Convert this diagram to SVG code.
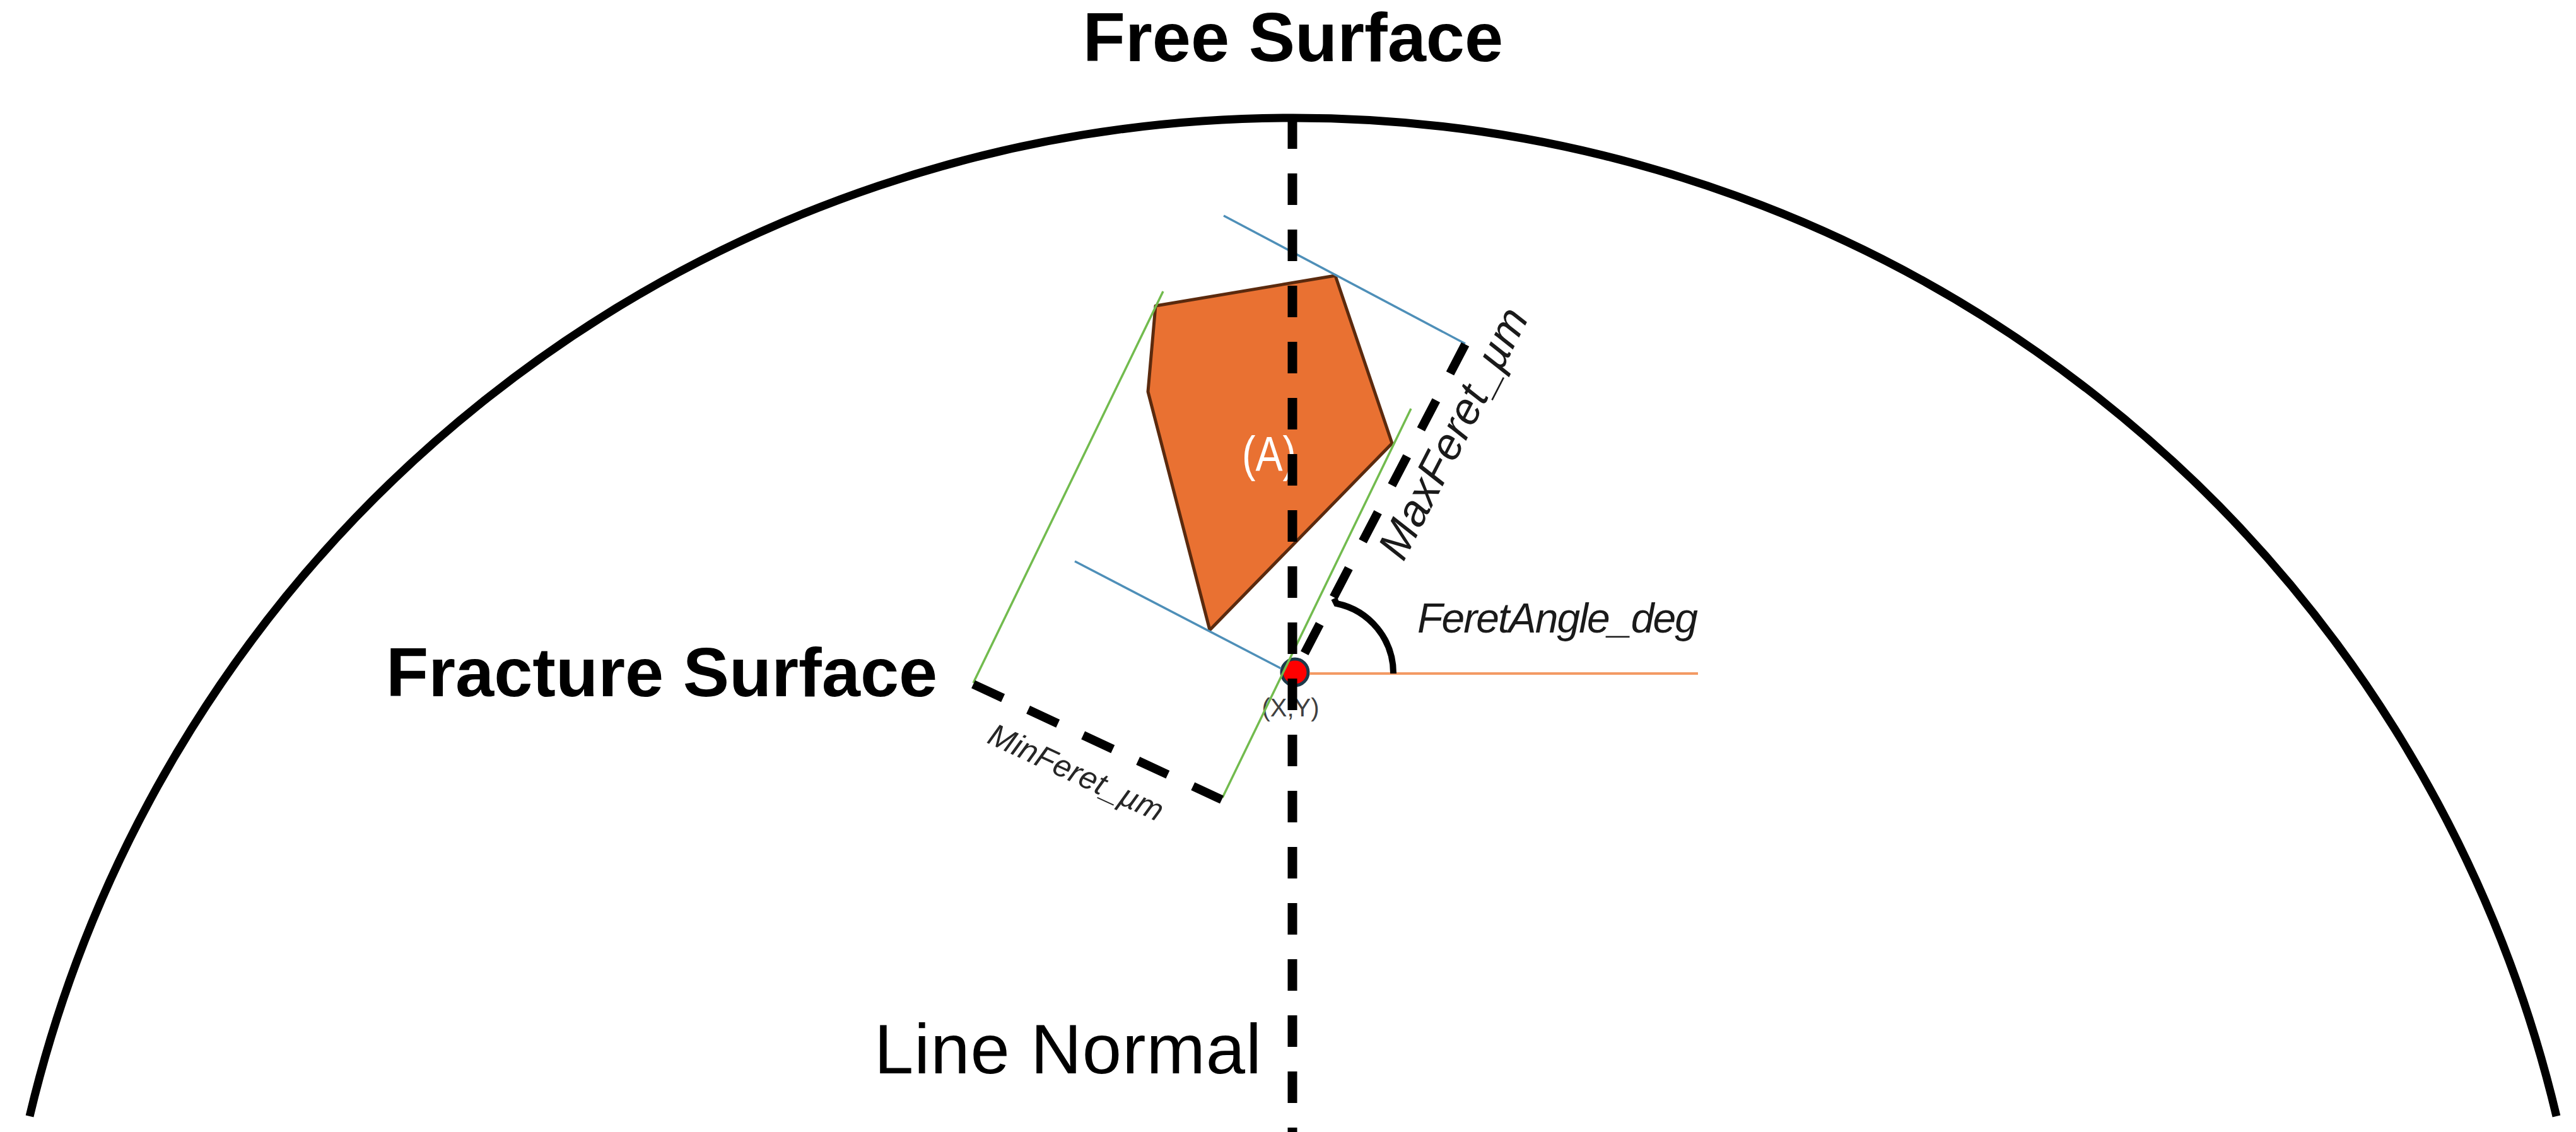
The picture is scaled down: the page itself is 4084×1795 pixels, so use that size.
<svg xmlns="http://www.w3.org/2000/svg" width="4084" height="1795" viewBox="0 0 4084 1795">
<style>
.title{font-family:"Liberation Sans",Arial,sans-serif;font-weight:bold;font-size:110px;fill:#000}
.lbl{font-family:"Liberation Sans",Arial,sans-serif;fill:#1a1a1a}
.it{font-style:italic}
.dash{fill:none;stroke:#000;stroke-width:14;stroke-linecap:butt}
.blue{stroke:#4E8FB8;stroke-width:3.5;fill:none}
.green{stroke:#72BB4E;stroke-width:3.5;fill:none}
</style>
<rect width="4084" height="1795" fill="#fff"/>
<g id="surface-arc">
<path d="M 47 1770 A 2058.7 2058.7 0 0 1 4053 1770" fill="none" stroke="#000" stroke-width="13"/>
</g>
<g id="particle-A">
<polygon points="1832,485 2117,437 2207,703 1918,999 1820,621" fill="#E97132" stroke="#5B2A0E" stroke-width="5" stroke-linejoin="round"/>
<text x="1969" y="747" class="lbl" font-size="78" textLength="86" lengthAdjust="spacingAndGlyphs" style="fill:#fff">(A)</text>
</g>
<g id="centroid">
<circle cx="2053" cy="1066" r="21" fill="#FF0000" stroke="#1C3A4A" stroke-width="5"/>
<text x="2046" y="1136" class="lbl" font-size="40" text-anchor="middle" style="fill:#404040">(X,Y)</text>
</g>
<g id="connectors">
<line class="green" x1="1844" y1="462" x2="1543" y2="1083"/>
<line class="green" x1="2237" y1="648" x2="1938" y2="1265"/>
<line class="blue" x1="1940" y1="342" x2="2323" y2="545"/>
<line class="blue" x1="1704" y1="890" x2="2031" y2="1060"/>
<line x1="2076" y1="1068" x2="2692" y2="1068" stroke="#F39A64" stroke-width="4"/>
<line class="dash" x1="2323" y1="546" x2="2052" y2="1067" stroke-dasharray="52 48"/>
<line class="dash" x1="1543" y1="1085" x2="1937" y2="1268" stroke-dasharray="52 44"/>
<path d="M 2115 949 L 2119 957 A 113 113 0 0 1 2209 1068" fill="none" stroke="#000" stroke-width="10"/>
<line x1="2049" y1="186" x2="2049" y2="1795" stroke="#000" stroke-width="15" stroke-dasharray="50 39"/>
</g>
<g id="labels">
<text x="2050" y="97" class="title" text-anchor="middle">Free Surface</text>
<text x="612" y="1104" class="title">Fracture Surface</text>
<text x="1386" y="1702" class="lbl" font-size="112" textLength="614" style="fill:#000">Line Normal</text>
<text x="2247" y="1003" class="lbl it" font-size="66" textLength="445">FeretAngle_deg</text>
<text transform="translate(2225,892) rotate(-62.8)" class="lbl it" font-size="70" textLength="437">MaxFeret_µm</text>
<text transform="translate(1563,1177) rotate(24.9)" class="lbl it" font-size="50" textLength="300" style="fill:#262626">MinFeret_µm</text>
</g>
</svg>
